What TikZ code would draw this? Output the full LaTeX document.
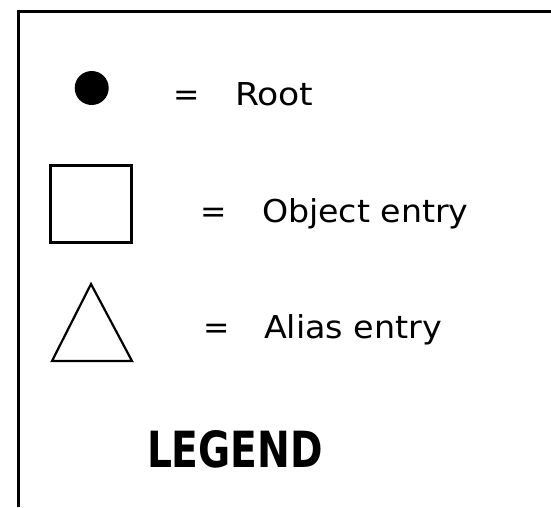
\documentclass[tikz,border=0pt]{standalone}
\usepackage{fontspec}
\setmainfont{DejaVu Sans}
\usepackage{graphicx}
\begin{document}
\begin{tikzpicture}[x=1pt,y=-1pt,
  lbl/.style={inner sep=0pt,outer sep=0pt,anchor=base west,font=\fontsize{31.5}{36}\selectfont},
  eq/.style={inner sep=0pt,outer sep=0pt,anchor=base,font=\fontsize{31.5}{36}\selectfont},
  sym/.style={draw=black,line width=2.5pt,line join=miter}]
\useasboundingbox (0,0) rectangle (551,507);
\fill[white] (0,0) rectangle (551,507);
% frame (left and top edges)
\coordinate (fbl) at (18,507);
\coordinate (ftl) at (18,11.5);
\coordinate (ftr) at (551,11.5);
\draw[line width=3pt] (fbl) -- (ftl) -- (ftr);
% root dot
\node[circle,fill=black,inner sep=0pt,minimum size=34pt] (root) at (91.7,88) {};
\node[eq] (eq1) at (187,105) {=};
\node[lbl] (t1) at (235,105) {\scalebox{1.10}[1]{Root}};
% object entry square
\node[sym,rectangle,minimum width=81pt,minimum height=77pt,inner sep=0pt] (obj) at (91,204) {};
\node[eq] (eq2) at (213.5,222) {=};
\node[lbl] (t2) at (262,222) {\scalebox{1.055}[1]{Object entry}};
% alias entry triangle
\coordinate (ta) at (91,284);
\coordinate (tl) at (52,361);
\coordinate (tr) at (132,361);
\draw[sym,line width=2.2pt] (ta) -- (tl) -- (tr) -- cycle;
\node[eq] (eq3) at (217,338) {=};
\node[lbl] (t3) at (264,338) {\scalebox{1.06}[1]{Alias entry}};
% legend title
\node[inner sep=0pt,outer sep=0pt,anchor=base west] (legend) at (147,467) {\resizebox{176pt}{37pt}{\bfseries LEGEND}};
\end{tikzpicture}
\end{document}
